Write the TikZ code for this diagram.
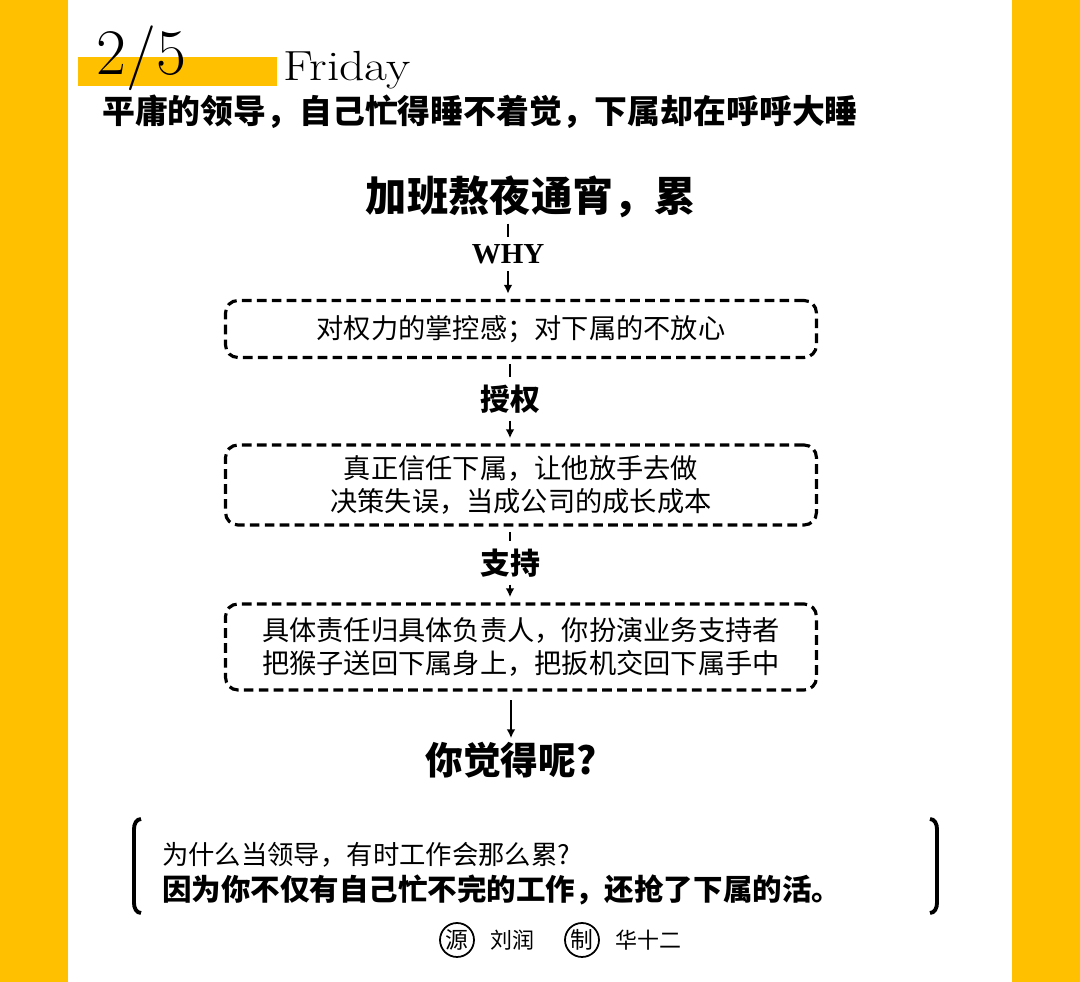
\documentclass[tikz,border=0pt]{standalone}
\usepackage{fontspec}
\newfontfamily\cjk{Noto Sans CJK SC}
\newfontfamily\latinbf{Liberation Serif}
\usetikzlibrary{arrows.meta}
\definecolor{strip}{HTML}{FFC000}
\tikzset{
    flowbox/.style={draw, line width=1.8pt, dash pattern=on 5.5pt off 3pt,
        rounded corners=7pt, minimum width=11.82cm, align=center,
        font=\cjk\fontsize{15.5}{18.7}\selectfont},
    steplabel/.style={inner sep=1pt, font=\cjk\bfseries\fontsize{17}{20}\selectfont},
    link/.style={line width=1.5pt, shorten <=3pt, shorten >=3pt},
    stamp/.style={draw, circle, line width=1pt, minimum size=0.68cm, inner sep=0pt,
        font=\cjk\fontsize{13}{15}\selectfont}
}
\begin{document}
\begin{tikzpicture}[x=0.02cm, y=-0.02cm, >={Latex[length=5pt,width=5pt]}]
    \useasboundingbox (0,0) rectangle (1080,982);
    \fill[white] (0,0) rectangle (1080,982);
    \fill[strip] (0,0) rectangle (68,982);
    \fill[strip] (1012,0) rectangle (1080,982);

    \fill[strip] (78,57) rectangle (277,86);
    \node[anchor=base west, inner sep=0pt, font=\fontsize{37}{40}\selectfont] (num) at (96,75) {2/5};
    \node[anchor=base west, inner sep=0pt, font=\fontsize{24}{28}\selectfont] (day) at (283,81) {\scalebox{1.18}[1]{Friday}};
    \node[font=\cjk\bfseries\fontsize{18.7}{21}\selectfont] (sub) at (480,112) {平庸的领导，自己忙得睡不着觉，下属却在呼呼大睡};

    \node[inner sep=0pt, font=\cjk\bfseries\fontsize{23.5}{26}\selectfont] (title) at (531,197) {加班熬夜通宵，累};
    \node[inner sep=1pt, font=\latinbf\bfseries\fontsize{16.5}{20}\selectfont] (why) at (508,254) {WHY};
    \node[flowbox, minimum height=1.14cm] (box1) at (521,329) {对权力的掌控感；对下属的不放心};
    \node[steplabel] (grant) at (510,399) {授权};
    \node[flowbox, minimum height=1.6cm] (box2) at (521,485) {真正信任下属，让他放手去做\\决策失误，当成公司的成长成本};
    \node[steplabel] (support) at (510,563) {支持};
    \node[flowbox, minimum height=1.72cm] (box3) at (521,647) {具体责任归具体负责人，你扮演业务支持者\\把猴子送回下属身上，把扳机交回下属手中};
    \node[inner sep=2pt, font=\cjk\bfseries\fontsize{21.5}{24}\selectfont] (ask) at (511,760) {你觉得呢?};

    \draw[link] (title.south -| why) -- (why);
    \draw[link,->] (why) -- (why |- box1.north);
    \draw[link] (box1.south -| grant) -- (grant);
    \draw[link,->] (grant) -- (grant |- box2.north);
    \draw[link] (box2.south -| support) -- (support);
    \draw[link,->] (support) -- (support |- box3.north);
    \draw[line width=1.5pt,->,shorten <=5pt] (box3.south -| ask) -- (ask);

    \draw[line width=2.2pt] (141,819) to[out=180,in=90] (134,829) -- (134,903) to[out=-90,in=180] (141,913);
    \draw[line width=2.2pt] (930,819) to[out=0,in=90] (937,829) -- (937,903) to[out=-90,in=0] (930,913);
    \node[anchor=west, font=\cjk\fontsize{15}{18}\selectfont] (question) at (156,855) {为什么当领导，有时工作会那么累?};
    \node[anchor=west, font=\cjk\bfseries\fontsize{16.8}{20}\selectfont] (answer) at (156,890) {因为你不仅有自己忙不完的工作，还抢了下属的活。};

    \node[stamp] (src) at (457,940) {源};
    \node[anchor=west, font=\cjk\fontsize{12.5}{15}\selectfont] (srcname) at (484,940) {刘润};
    \node[stamp] (make) at (582,940) {制};
    \node[anchor=west, font=\cjk\fontsize{12.5}{15}\selectfont] (makename) at (609,940) {华十二};
\end{tikzpicture}
\end{document}
